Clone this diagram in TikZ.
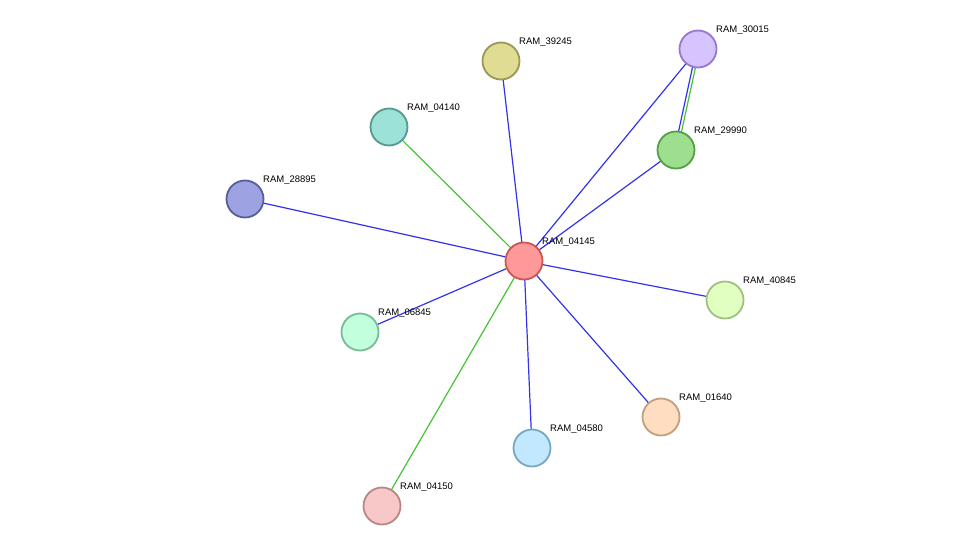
\documentclass[tikz,border=0pt]{standalone}
\usepackage{fontspec}
\setmainfont{Liberation Sans}
\begin{document}
\begin{tikzpicture}[x=1pt,y=-1pt]
\tikzset{prot/.style={circle,minimum size=37pt,inner sep=0pt,line width=1.8pt},
  lab/.style={font=\fontsize{9.5}{10}\selectfont,anchor=south west,inner sep=1pt},
  bl/.style={draw={rgb,255:red,51;green,51;blue,238},line width=1.2pt},
  gr/.style={draw={rgb,255:red,68;green,196;blue,51},line width=1.2pt}}
\useasboundingbox (0,0) rectangle (975,552);
% edges
\coordinate (c) at (524,261);
\coordinate (p39245) at (501,61);
\coordinate (p30015) at (698,49);
\coordinate (p29990) at (676,150);
\coordinate (p04140) at (389,127);
\coordinate (p28895) at (245,199);
\coordinate (p40845) at (725,300);
\coordinate (p06845) at (360,332);
\coordinate (p01640) at (661,417);
\coordinate (p04580) at (532,448);
\coordinate (p04150) at (382,506);
\foreach \n in {39245,30015,29990,28895,40845,06845,01640,04580}
  \draw[bl] (c) -- (p\n);
\foreach \n in {04140,04150}
  \draw[gr] (c) -- (p\n);
\draw[gr] ([xshift=1.5pt]p30015) -- ([xshift=1.5pt]p29990);
\draw[bl] ([xshift=-1.5pt]p30015) -- ([xshift=-1.5pt]p29990);
% nodes
\foreach \n/\f/\d in {04145/FF9999/CC5555,39245/E0DC94/999955,30015/D6C4FF/9977CC,
  29990/9DDF8F/55A044,04140/9CE2D8/55998F,28895/9CA2E2/55609A,40845/E2FFC2/A0C080,
  06845/C2FFDC/77BB99,01640/FFDDC0/C0A080,04580/C2E8FF/77A8C0,04150/F8C8C8/B88888}{
  \definecolor{f}{HTML}{\f}\definecolor{d}{HTML}{\d}
  \node[prot,fill=f,draw=d] (n\n) at (\ifnum\n=4145 c\else p\n\fi) {};
  \node[lab] at ([xshift=17pt,yshift=13pt]n\n.center) {RAM\_\n};}
\end{tikzpicture}
\end{document}
